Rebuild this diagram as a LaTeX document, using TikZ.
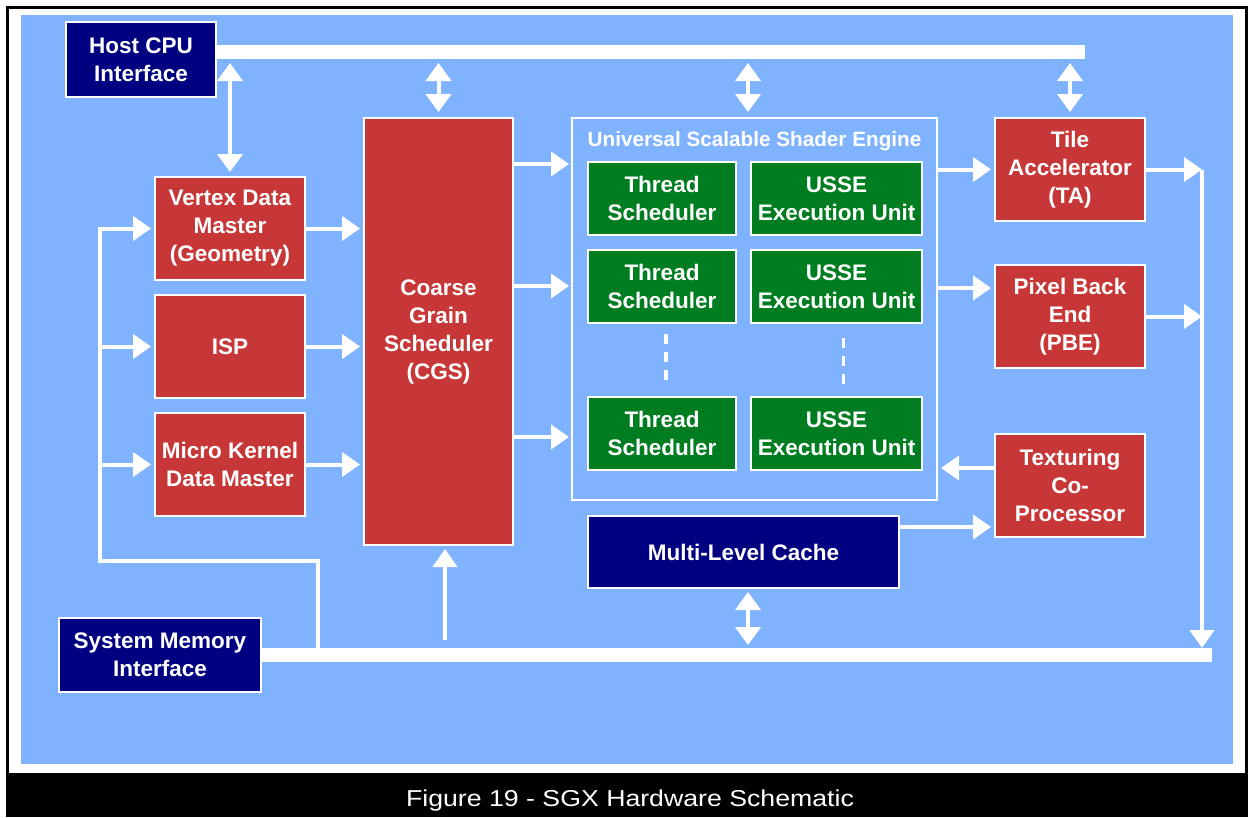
\documentclass[tikz,border=0pt]{standalone}
\usepackage{fontspec}
\setmainfont{Liberation Sans}
\newfontfamily\capfont[FakeStretch=1.16]{Liberation Sans}
\usepackage{tikz}
\usetikzlibrary{arrows.meta,positioning}
\definecolor{sky}{RGB}{128, 179, 255}
\definecolor{brick}{RGB}{200, 55, 55}
\definecolor{navy}{RGB}{0, 0, 128}
\definecolor{leaf}{RGB}{0, 125, 32}
\tikzstyle{unit} = [rectangle, draw=white, line width=2pt, outer sep=0pt, text=white, align=center, font=\bfseries\fontsize{22.5}{28}\selectfont]
\tikzstyle{redbox} = [unit, fill=brick, minimum width=150pt, minimum height=103pt]
\tikzstyle{navybox} = [unit, fill=navy]
\tikzstyle{greenbox} = [unit, fill=leaf, minimum height=73pt]
\tikzstyle{bus} = [draw=white, line width=14pt]
\tikzstyle{wire} = [draw=white, line width=4pt, -{Triangle[width=24pt,length=18pt]}, shorten >=4pt]
\tikzstyle{dwire} = [draw=white, line width=4pt, {Triangle[width=25pt,length=18pt]}-{Triangle[width=25pt,length=18pt]}, shorten <=11pt, shorten >=5pt]
\tikzstyle{dots} = [draw=white, line width=3.5pt, dash pattern=on 10pt off 8pt]

\begin{document}
\begin{tikzpicture}[x=1pt, y=-1pt]
\useasboundingbox (0,0) rectangle (1250,817);

% frame ==================================
\fill[white] (0,0) rectangle (1250,817);
\draw[black, line width=3pt] (7.5,7.5) rectangle (1246.5,800);
\fill[black] (6,773) rectangle (1248,817);
\fill[sky] (21,15) rectangle (1233,764);

% interfaces
\node[navybox, minimum width=150pt, minimum height=75pt] (host) at (141,59.5) {Host CPU\\Interface};
\node[navybox, minimum width=202pt, minimum height=74pt] (sysmem) at (160,655) {System Memory\\Interface};

% front end
\node[redbox] (vdm) at (230,228.5) {Vertex Data\\Master\\(Geometry)};
\node[redbox, below=15pt of vdm] (isp) {ISP};
\node[redbox, below=15pt of isp] (mkdm) {Micro Kernel\\Data Master};
\node[redbox, minimum width=149pt, minimum height=427pt] (cgs) at (438.5,331.5) {Coarse\\Grain\\Scheduler\\(CGS)};

% shader engine
\node[draw=white, line width=2pt, outer sep=0pt, minimum width=365pt, minimum height=382pt] (usse) at (754.5,309) {};
\node[text=white, font=\bfseries\fontsize{20.7}{24}\selectfont, below=10pt of usse.north] (ussetitle) {Universal Scalable Shader Engine};
\node[greenbox, minimum width=148pt] (ts1) at (662,198.5) {Thread\\Scheduler};
\node[greenbox, minimum width=171pt, right=15pt of ts1] (eu1) {USSE\\Execution Unit};
\node[greenbox, minimum width=148pt, below=15pt of ts1] (ts2) {Thread\\Scheduler};
\node[greenbox, minimum width=171pt, right=15pt of ts2] (eu2) {USSE\\Execution Unit};
\node[greenbox, minimum width=148pt, below=74pt of ts2] (ts3) {Thread\\Scheduler};
\node[greenbox, minimum width=171pt, right=15pt of ts3] (eu3) {USSE\\Execution Unit};
\node[navybox, minimum width=311pt, minimum height=72pt] (mlc) at (743.5,552) {Multi-Level Cache};

% back end
\node[redbox] (ta) at (1070,169.5) {Tile\\Accelerator\\(TA)};
\node[redbox, below=44pt of ta] (pbe) {Pixel Back\\End\\(PBE)};
\node[redbox, below=66pt of pbe] (tcp) {Texturing\\Co-\\Processor};

% caption
\node[text=white, font=\capfont\fontsize{23}{27}\selectfont, anchor=base] (caption) at (630,806) {Figure 19 - SGX Hardware Schematic};

% buses
\coordinate (topend) at (1085,52);
\coordinate (botend) at (1212,655);
\path[bus] (host.east |- topend) -- (topend);
\path[bus] (sysmem.east) -- (botend);

% taps
\coordinate (usseup) at (748,118);
\coordinate (mlcdown) at (748,588);
\coordinate (cgsup) at (445,545);
\path[dwire] (vdm.north |- topend) -- (vdm.north);
\path[dwire, shorten >=6pt] (cgs.north |- topend) -- (cgs.north);
\path[dwire, shorten >=6pt] (usseup |- topend) -- (usseup);
\path[dwire, shorten >=6pt] (ta.north |- topend) -- (ta.north);
\path[dwire, shorten <=10pt, shorten >=4pt] (mlcdown |- botend) -- (mlcdown);
\path[wire, shorten <=15pt] (cgsup |- botend) -- (cgsup);

% left loop
\coordinate (tap) at (318,655);
\coordinate (loop) at (100,561);
\path[wire] (tap) |- (loop) |- (vdm);
\path[wire] (loop |- isp) -- (isp);
\path[wire] (loop |- mkdm) -- (mkdm);

% into the scheduler
\path[wire] (vdm) -- (vdm -| cgs.west);
\path[wire] (isp) -- (isp -| cgs.west);
\path[wire] (mkdm) -- (mkdm -| cgs.west);

% into the shader engine
\coordinate (in1) at (573,164);
\coordinate (in2) at (573,286);
\coordinate (in3) at (573,437);
\path[wire] (cgs.east |- in1) -- (in1);
\path[wire] (cgs.east |- in2) -- (in2);
\path[wire] (cgs.east |- in3) -- (in3);
\path[dots] ([xshift=4pt,yshift=-11pt]ts2.south) -- ([xshift=4pt,yshift=11pt]ts3.north);
\path[dots] ([xshift=7pt,yshift=-15pt]eu2.south) -- ([xshift=7pt,yshift=8pt]eu3.north);

% out of the shader engine
\coordinate (out2) at (937,288);
\coordinate (tex) at (937,468);
\coordinate (mlcout) at (899,527);
\path[wire] (usse.east |- ta) -- (ta);
\path[wire] (out2) -- (out2 -| pbe.west);
\path[wire] (tex -| tcp.west) -- (tex);
\path[wire] (mlcout) -- (mlcout -| tcp.west);

% right rail
\coordinate (rail) at (1202,172);
\path[wire, shorten >=0pt] (ta) -- (ta -| rail);
\path[wire, shorten >=0pt] (pbe) -- (pbe -| rail);
\path[wire, shorten >=7pt] (ta -| rail) -- (rail |- botend);

\end{tikzpicture}
\end{document}
